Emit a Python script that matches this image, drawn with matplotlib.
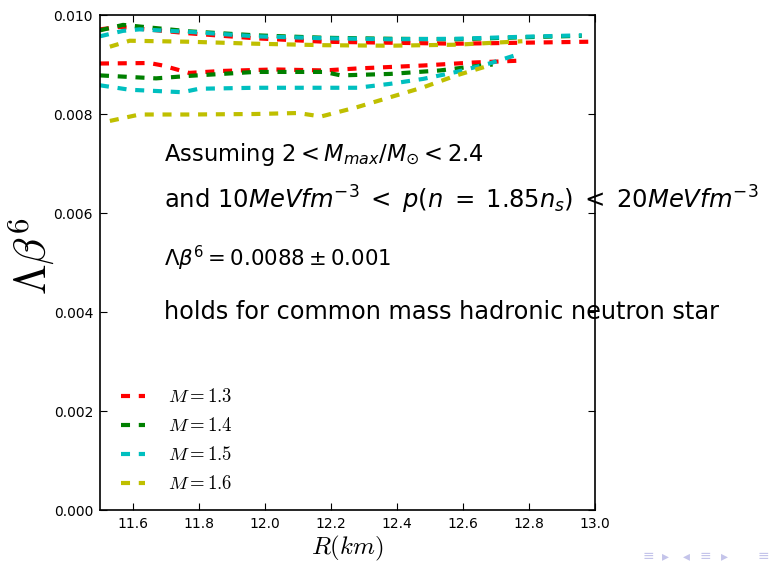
import matplotlib
matplotlib.use('Agg')
import matplotlib.pyplot as plt

plt.rcParams['mathtext.fontset'] = 'cm'
plt.rcParams['lines.scale_dashes'] = False

# (R [km], Lambda*beta^6), two branches per mass
r13_up = [11.50, 11.56, 11.77, 11.97, 12.18, 12.38, 12.58, 12.78, 12.98]
l13_up = [0.00971, 0.00976, 0.00963, 0.00953, 0.00946, 0.00944, 0.00942, 0.00944, 0.00946]
r13_lo = [11.50, 11.65, 11.69, 11.77, 11.87, 12.03, 12.18, 12.28, 12.48, 12.63, 12.78]
l13_lo = [0.00902, 0.00903, 0.00898, 0.00883, 0.00887, 0.00890, 0.00888, 0.00892, 0.00898, 0.00904, 0.00908]

r14_up = [11.50, 11.57, 11.77, 11.97, 12.18, 12.38, 12.58, 12.78, 12.96]
l14_up = [0.00969, 0.00980, 0.00967, 0.00959, 0.00954, 0.00952, 0.00951, 0.00955, 0.00958]
r14_lo = [11.50, 11.67, 11.77, 11.97, 12.18, 12.23, 12.38, 12.53, 12.63, 12.69]
l14_lo = [0.00878, 0.00872, 0.00877, 0.00885, 0.00885, 0.00878, 0.00881, 0.00888, 0.00896, 0.00900]

r15_up = [11.50, 11.57, 11.62, 11.77, 11.97, 12.18, 12.38, 12.58, 12.78, 12.96]
l15_up = [0.00957, 0.00968, 0.00971, 0.00966, 0.00957, 0.00953, 0.00951, 0.00952, 0.00956, 0.00959]
r15_lo = [11.50, 11.59, 11.75, 11.80, 11.97, 12.28, 12.38, 12.48, 12.58, 12.68, 12.76]
l15_lo = [0.00858, 0.00849, 0.00844, 0.00851, 0.00853, 0.00853, 0.00861, 0.00871, 0.00885, 0.00902, 0.00919]

r16_up = [11.53, 11.59, 11.77, 11.97, 12.18, 12.38, 12.58, 12.78]
l16_up = [0.00936, 0.00948, 0.00946, 0.00942, 0.00939, 0.00938, 0.00940, 0.00947]
r16_lo = [11.53, 11.62, 11.77, 11.97, 12.10, 12.17, 12.28, 12.38, 12.48, 12.58, 12.68]
l16_lo = [0.00786, 0.00799, 0.00799, 0.00800, 0.00802, 0.00795, 0.00814, 0.00834, 0.00854, 0.00878, 0.00898]

masses = ['1.3', '1.4', '1.5', '1.6']
colors = ['r', 'g', 'c', 'y']
branches = [
    (r13_up, l13_up, r13_lo, l13_lo),
    (r14_up, l14_up, r14_lo, l14_lo),
    (r15_up, l15_up, r15_lo, l15_lo),
    (r16_up, l16_up, r16_lo, l16_lo),
]

fig = plt.figure(figsize=(7.69, 5.64), dpi=100)
ax = fig.add_axes([0.130, 0.0957, 0.6437, 0.8777])

dash = (0, (6.5, 6.3))
for m, col, (ru, lu, rl, ll) in zip(masses, colors, branches):
    ax.plot(ru, lu, color=col, lw=3, linestyle=dash, label=r'$M=%s$' % m)
    ax.plot(rl, ll, color=col, lw=3, linestyle=dash)

ax.set_xlim(11.5, 13.0)
ax.set_ylim(0, 0.010)
ax.set_xticks([11.6, 11.8, 12.0, 12.2, 12.4, 12.6, 12.8, 13.0])
ax.set_yticks([0.0, 0.002, 0.004, 0.006, 0.008, 0.010])
ax.set_yticklabels(['0.000', '0.002', '0.004', '0.006', '0.008', '0.010'])
ax.tick_params(direction='in', top=True, right=True, length=5, labelsize=10, pad=5)
for s in ax.spines.values():
    s.set_linewidth(1.2)

ax.set_xlabel(r'$R(km)$', fontsize=18, labelpad=2)
ax.set_ylabel(r'$\Lambda\beta^6$', fontsize=32)
ax.yaxis.set_label_coords(-0.087, 0.513)

leg = ax.legend(loc='lower left', bbox_to_anchor=(0.008, 0.0), frameon=False,
                fontsize=13.5, handlelength=1.3, handletextpad=1.2,
                labelspacing=0.53, borderaxespad=0.4, borderpad=0.5)

# slide text overlaid on the figure
tkw = dict(color='black', math_fontfamily='dejavusans', va='center')
fig.text(0.213, 1 - 155 / 564, r'Assuming $2 < M_{max}/M_{\odot} < 2.4$', fontsize=16.3, **tkw)
fig.text(0.213, 1 - 200 / 564,
         r'and $10MeVfm^{-3}\;<\;p(n\;=\;1.85n_s)\;<\;20MeVfm^{-3}$', fontsize=17.5, **tkw)
fig.text(0.213, 1 - 258 / 564, r'$\Lambda\beta^6 = 0.0088 \pm 0.001$', fontsize=15.3, **tkw)
fig.text(0.213, 1 - 312 / 564, 'holds for common mass hadronic neutron star', fontsize=17.3, **tkw)

# beamer navigation symbols
nav = [(648, '\u2261'), (665, '\u25b8'), (686, '\u25c2'), (705, '\u2261'),
       (724, '\u25b8'), (763, '\u2261')]
for px, ch in nav:
    fig.text(px / 769, 1 - 556 / 564, ch, fontsize=10, color='#c4c4ea',
             ha='center', va='center')

fig.savefig('out.png', dpi=100, facecolor='white')
